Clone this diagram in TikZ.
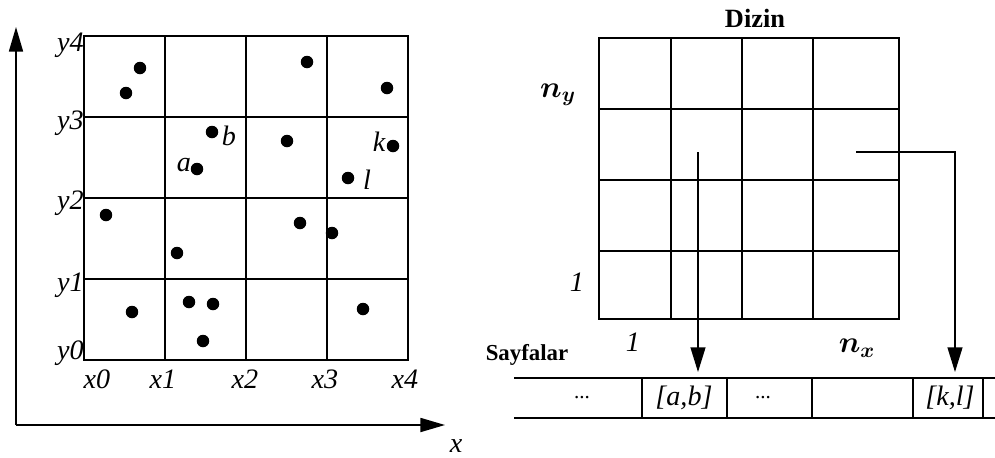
\documentclass[tikz,border=0pt]{standalone}
\usepackage{fontspec}
\setmainfont{Liberation Serif}
\usepackage{bm}
\usetikzlibrary{arrows.meta}
\tikzset{
  gline/.style={line width=0.9pt},
  dot/.style={circle,fill=black,minimum size=0.25cm,inner sep=0pt},
  axis/.style={line width=0.9pt,-{Triangle[length=14pt,width=8pt]}},
  ptr/.style={line width=0.7pt,-{Triangle[length=14pt,width=8.5pt]}},
  lbl/.style={font=\fontsize{16}{16}\selectfont\itshape,inner sep=0pt},
  ttl/.style={font=\fontsize{15}{15}\selectfont\bfseries,inner sep=0pt},
  mlbl/.style={font=\fontsize{18}{18}\selectfont,inner sep=0pt},
}

\begin{document}
\begin{tikzpicture}[x=0.02cm,y=-0.02cm]
\useasboundingbox (0,0) rectangle (995,457);
% axes
\coordinate (O) at (16,425);
\coordinate (ytip) at (16,27);
\coordinate (xtip) at (445,425);
\draw[axis] (O) -- (ytip);
\draw[axis] (O) -- (xtip);
\node[lbl] (xl) at (456,446) {x};
% left grid
\draw[gline] (84,36) rectangle (408,360);
\foreach \k in {1,2,3}{
  \draw[gline] (84+81*\k,36) -- (84+81*\k,360);
  \draw[gline] (84,36+81*\k) -- (408,36+81*\k);
}
\foreach \i/\px in {0/97,1/163,2/245,3/325,4/405}{\node[lbl] (x\i) at (\px,379) {x\i};}
\foreach \i/\py in {0/353,1/285,2/203,3/123,4/45}{\node[lbl,anchor=east] (y\i) at (84,\py) {y\i};}
% points
\foreach \px/\py [count=\i] in {140/68,126/93,307/62,387/88,212/132,197/169,287/141,393/146,348/178,
    106/215,300/223,332/233,177/253,132/312,189/302,213/304,203/341,363/309}{
  \node[dot] (d\i) at (\px,\py) {};}
\node[lbl] (la) at (184,165) {a};
\node[lbl] (lb) at (229,136) {b};
\node[lbl] (lk) at (379,142) {k};
\node[lbl] (ll) at (367,180) {l};
% directory
\node[ttl] (dizin) at (755,18) {Dizin};
\draw[gline] (599,38) rectangle (899,319);
\foreach \x in {671,742,813}{\draw[gline] (\x,38) -- (\x,319);}
\foreach \y in {109,180,251}{\draw[gline] (599,\y) -- (899,\y);}
\node[mlbl] (ny) at (558,95) {$\bm{n}_{\bm{y}}$};
\node[lbl] (one1) at (577,282) {1};
\node[lbl] (one2) at (633,342) {1};
\node[mlbl] (nx) at (857,348) {$\bm{n}_{\bm{x}}$};
% pages
\node[font=\fontsize{13}{13}\selectfont\bfseries,inner sep=0pt] (sayfa) at (527,355) {Sayfalar};
\draw[gline] (514,378) -- (995,378);
\draw[gline] (514,418) -- (995,418);
\foreach \x in {642,727,812,913,983}{\draw[gline] (\x,378) -- (\x,418);}
\node[font=\fontsize{12}{12}\selectfont,inner sep=0pt] (p1) at (582,398) {...};
\node[lbl] (pab) at (684,398) {[a,b]};
\node[font=\fontsize{12}{12}\selectfont,inner sep=0pt] (p3) at (763,398) {...};
\node[lbl] (pkl) at (950,398) {[k,l]};
% pointers
\coordinate (cab) at (698,152);
\coordinate (tab) at (698,372);
\coordinate (ckl) at (856,152);
\coordinate (tkl) at (955,372);
\draw[ptr] (cab) -- (tab);
\draw[ptr] (ckl) -| (tkl);
\end{tikzpicture}
\end{document}
